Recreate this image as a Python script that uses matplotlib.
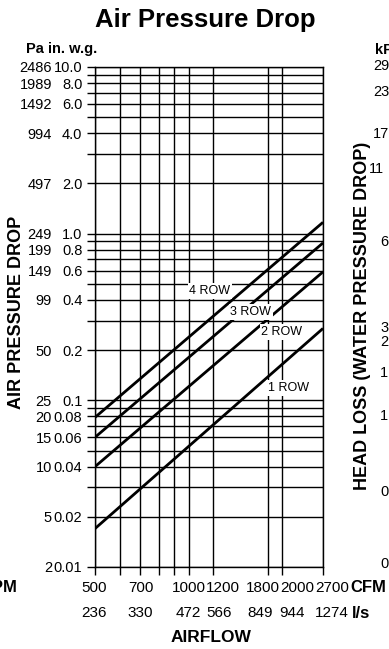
import matplotlib
matplotlib.use('Agg')
import matplotlib.pyplot as plt
from matplotlib.transforms import ScaledTranslation

# airflow axis (CFM) and matching l/s labels
cfm_grid = [500, 600, 700, 800, 900, 1000, 1200, 1800, 2000, 2700]
cfm_ticks = [500, 700, 1000, 1200, 1800, 2000, 2700]
cfm_labels = ['500', '700', '1000', '1200', '1800', '2000', '2700']
ls_labels = ['236', '330', '472', '566', '849', '944', '1274']

# pressure drop axis (in. w.g.) and matching Pa labels
inwg_grid = [0.01, 0.02, 0.03, 0.04, 0.05, 0.06, 0.07, 0.08, 0.09,
             0.1, 0.2, 0.3, 0.4, 0.5, 0.6, 0.7, 0.8, 0.9,
             1, 2, 3, 4, 5, 6, 7, 8, 9, 10]
inwg_ticks = [10, 8, 6, 4, 2, 1, 0.8, 0.6, 0.4, 0.2, 0.1, 0.08, 0.06, 0.04, 0.02, 0.01]
inwg_labels = ['10.0', '8.0', '6.0', '4.0', '2.0', '1.0', '0.8', '0.6', '0.4', '0.2',
               '0.1', '0.08', '0.06', '0.04', '0.02', '0.01']
pa_labels = ['2486', '1989', '1492', '994', '497', '249', '199', '149', '99', '50',
             '25', '20', '15', '10', '5', '2']

# coil rows: pressure drop at 500 and 2700 CFM (straight on log-log)
row_cfm = [500, 2700]
row_names = ['4 ROW', '3 ROW', '2 ROW', '1 ROW']
row_drop = [[0.079, 1.17],
            [0.060, 0.88],
            [0.040, 0.59],
            [0.017, 0.27]]
row_label_at = [(1170, 0.453), (1584, 0.339), (1993, 0.257), (2085, 0.1186)]

# clipped remains of the neighbouring chart on the right
kpa_labels = ['29', '23', '17', '11', '6', '3', '2', '1', '1', '0', '0']
kpa_pos = [(373, 64), (373, 90), (373, 132), (369, 167), (380, 240), (380, 327),
           (380, 340), (380, 372), (380, 415), (380, 490), (380, 562)]

plt.rcParams['font.family'] = ['Liberation Sans', 'DejaVu Sans']

W, H = 389, 649
def fx(px):
    return px / W
def fy(py):
    return 1 - py / H

fig = plt.figure(figsize=(W / 100, H / 100), dpi=100)
ax = fig.add_axes([fx(95), fy(567), 228 / W, 500 / H])
ax.set_xscale('log')
ax.set_yscale('log')
ax.set_xlim(500, 2700)
ax.set_ylim(0.01, 10)
ax.minorticks_off()

for v in cfm_grid:
    ax.axvline(v, color='black', lw=1.0, zorder=1)
for v in inwg_grid:
    ax.axhline(v, color='black', lw=1.0, zorder=1)
for s in ax.spines.values():
    s.set_linewidth(1.0)

ax.set_xticks(cfm_grid)
ax.set_xticklabels([])
ax.set_yticks(inwg_grid)
lab = dict(zip(inwg_ticks, inwg_labels))
ax.set_yticklabels([lab.get(v, '') for v in inwg_grid])
ax.tick_params(direction='out', length=6, width=1.0, labelsize=10.5, pad=3, colors='black')

# Pa column
for v, t in zip(inwg_ticks, pa_labels):
    ax.text(-43 / 228, v, t, transform=ax.get_yaxis_transform(), ha='right',
            va='center_baseline', fontsize=10.5)

# airflow labels, nudged sideways like the original
cfm_dx = [-1, 0, 0, 10, -5, 15, 9]
ls_dx = [-1, 0, 0, 6, -8, 10, 9]
for v, t, d in zip(cfm_ticks, cfm_labels, cfm_dx):
    tr = ax.get_xaxis_transform() + ScaledTranslation(d / 100, 0, fig.dpi_scale_trans)
    ax.text(v, -21 / 500, t, transform=tr, ha='center', va='center', fontsize=11, clip_on=False)
for v, t, d in zip(cfm_ticks, ls_labels, ls_dx):
    tr = ax.get_xaxis_transform() + ScaledTranslation(d / 100, 0, fig.dpi_scale_trans)
    ax.text(v, -46 / 500, t, transform=tr, ha='center', va='center', fontsize=11, clip_on=False)

for name, drop, pos in zip(row_names, row_drop, row_label_at):
    ax.plot(row_cfm, drop, color='black', lw=2.0, solid_capstyle='butt', zorder=3)
    ax.text(pos[0], pos[1], name, ha='center', va='center', fontsize=9, zorder=4,
            bbox=dict(boxstyle='square,pad=0.15', fc='white', ec='none'))

fig.text(fx(205), fy(27), 'Air Pressure Drop', ha='center', va='baseline',
         fontsize=18.5, fontweight='bold')
fig.text(fx(61.5), fy(49), 'Pa in. w.g.', ha='center', va='center', fontsize=10.5,
         fontweight='bold')
fig.text(fx(17), fy(312), 'AIR PRESSURE DROP', rotation=90, ha='center', va='center',
         fontsize=13, fontweight='bold')
fig.text(fx(211), fy(637), 'AIRFLOW', ha='center', va='center', fontsize=12.5,
         fontweight='bold')
fig.text(fx(350), fy(588), 'CFM', ha='left', va='center', fontsize=12, fontweight='bold')
fig.text(fx(352), fy(613), 'l/s', ha='left', va='center', fontsize=12, fontweight='bold')
fig.text(fx(17), fy(588), 'GPM', ha='right', va='center', fontsize=12, fontweight='bold')

fig.text(fx(375), fy(50), 'kPa', ha='left', va='center', fontsize=10.5, fontweight='bold')
fig.text(fx(362.5), fy(315.5), 'HEAD LOSS (WATER PRESSURE DROP)', rotation=90,
         ha='center', va='center', fontsize=13, fontweight='bold')
for t, (px, py) in zip(kpa_labels, kpa_pos):
    fig.text(fx(px), fy(py), t, ha='left', va='center_baseline', fontsize=10.5)

fig.savefig('out.png', dpi=100)
